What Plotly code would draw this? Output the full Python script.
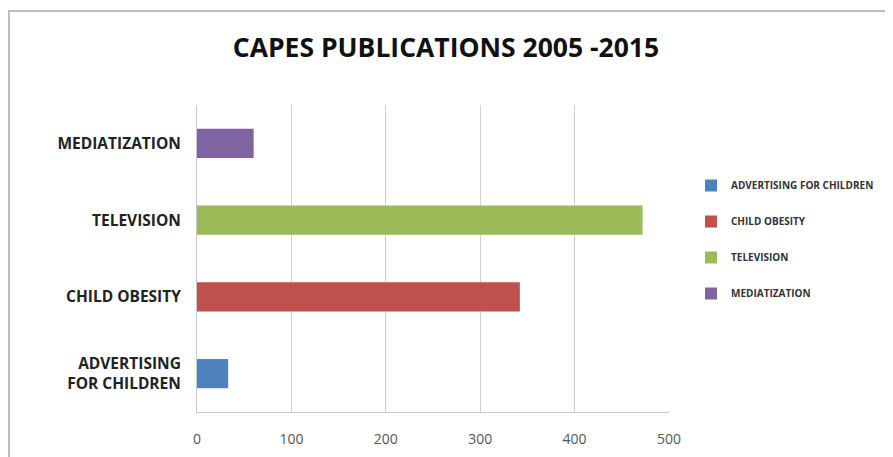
import plotly.graph_objects as go

categories = ["ADVERTISING<br>FOR CHILDREN", "CHILD OBESITY", "TELEVISION", "MEDIATIZATION"]
legend_names = ["ADVERTISING FOR CHILDREN", "CHILD OBESITY", "TELEVISION", "MEDIATIZATION"]
values = [33, 342, 472, 60]
colors = ["#4F81BD", "#C0504D", "#9BBB59", "#8064A2"]
x_ticks = [0, 100, 200, 300, 400, 500]

OFF = 8  # browser body margin
W, H = 893 - OFF, 457 - OFF
# desired page-pixel positions of the plot area
PL, PR, PT, PB = 197, 669, 105, 412
L, R, T, B = PL - OFF, PR - OFF, PT - OFF, PB - OFF

def px(xp):
    return (xp - PL) / (PR - PL)

def py(yp):
    return (PB - yp) / (PB - PT)

def cx(xp):
    return (xp - OFF) / W

def cy(yp):
    return 1 - (yp - OFF) / H

fig = go.Figure()
for i, (cat, name, v, c) in enumerate(zip(categories, legend_names, values, colors)):
    fig.add_trace(go.Bar(
        y=[cat], x=[v], orientation="h", name=name,
        marker=dict(color=c, line=dict(width=0)),
        legendgroup=str(i),
    ))

fig.update_layout(
    width=W, height=H,
    margin=dict(l=L, r=W - R, t=T, b=H - B, pad=0, autoexpand=False),
    paper_bgcolor="white", plot_bgcolor="white",
    barmode="overlay", bargap=0.62,
    title=dict(text="<b>CAPES PUBLICATIONS 2005 -2015</b>", x=cx(446), xref="container",
               xanchor="center", y=cy(48), yref="container", yanchor="middle",
               font=dict(family="Open Sans", size=26.5, color="#111111")),
    font=dict(family="Open Sans", color="#222222"),
    legend=dict(x=cx(691), y=cy(171), xref="container", yref="container",
                xanchor="left", yanchor="top",
                traceorder="grouped", tracegroupgap=17,
                font=dict(family="Open Sans", size=10, color="#333333", weight="bold"),
                itemwidth=30, bgcolor="rgba(0,0,0,0)"),
    showlegend=True,
)
fig.update_xaxes(range=[0, 500], tickvals=x_ticks, showgrid=True, gridcolor="#d0d0d0", gridwidth=1,
                 showline=True, linecolor="#c8c8c8", linewidth=1, zeroline=False,
                 tickfont=dict(family="Open Sans", size=14, color="#555555"), ticks="", ticklabelstandoff=14)
fig.update_yaxes(categoryorder="array", categoryarray=categories, showgrid=False,
                 showline=True, linecolor="#c8c8c8", linewidth=1, zeroline=False,
                 tickfont=dict(family="Open Sans", size=15.5, color="#222222", weight="bold"),
                 ticks="", ticklabelstandoff=12)

# outer chart frame
fig.add_shape(type="rect", xref="paper", yref="paper",
              x0=px(9), x1=px(893 + 20), y0=py(457 + 20), y1=py(11),
              line=dict(color="#bdbdbd", width=2), fillcolor="rgba(0,0,0,0)", layer="below")

fig.write_html("out.html")
